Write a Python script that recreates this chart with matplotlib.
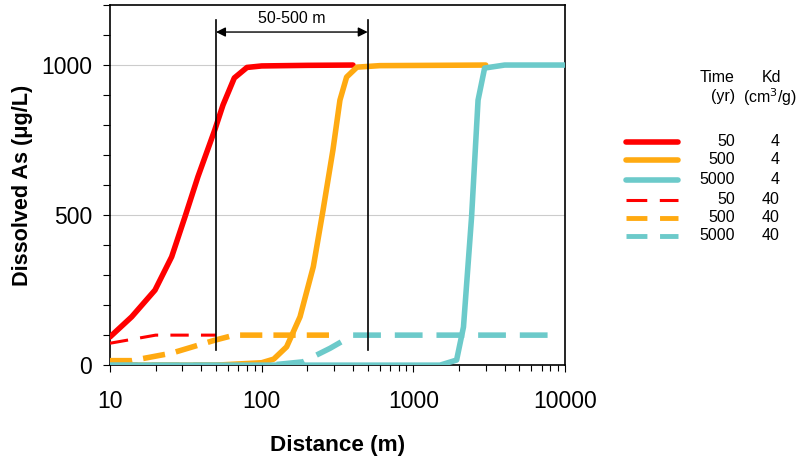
import numpy as np
import matplotlib
matplotlib.use("Agg")
import matplotlib.pyplot as plt
from matplotlib.ticker import MultipleLocator, FixedLocator, LogLocator, NullFormatter

plt.rcParams['font.family'] = ['Liberation Sans', 'DejaVu Sans']

# Kd = 4, solid lines
x_50_k4 = [10, 13.9, 19.8, 25.5, 31.2, 38, 49, 55.6, 66, 80, 100, 200, 400]
y_50_k4 = [94, 161, 250, 361, 494, 628, 783, 867, 957, 992, 997, 999, 1000]

x_500_k4 = [10, 50, 100, 120, 146, 179, 219, 254, 295, 328, 363, 425, 600, 3000]
y_500_k4 = [0, 0, 8, 20, 61, 161, 328, 517, 717, 883, 960, 993, 998, 1000]

x_5000_k4 = [10, 1500, 1928, 2140, 2420, 2670, 2950, 4000, 10000]
y_5000_k4 = [0, 0, 17, 127, 494, 883, 990, 1000, 1000]

# Kd = 40, dashed lines
x_50_k40 = [10, 20, 30, 50]
y_50_k40 = [73, 100, 100, 100]

x_500_k40 = [10, 13.9, 25.5, 49, 66, 100, 300]
y_500_k40 = [15, 15, 40, 83, 100, 100, 100]

x_5000_k40 = [10, 113, 187, 282, 400, 1000, 8500]
y_5000_k40 = [0, 0, 11, 56, 100, 100, 100]

legend_time = ["50", "500", "5000", "50", "500", "5000"]
legend_kd = ["4", "4", "4", "40", "40", "40"]

red = "#FF0000"
orange = "#FFAA11"
cyan = "#6CCACA"

fig = plt.figure(figsize=(8, 4.57), dpi=100)
ax = fig.add_axes([0.1375, 0.201, 0.5688, 0.788])

series = [
    (x_50_k4, y_50_k4, red, "-", 4.0),
    (x_500_k4, y_500_k4, orange, "-", 4.0),
    (x_5000_k4, y_5000_k4, cyan, "-", 4.0),
    (x_50_k40, y_50_k40, red, (0, (6, 4)), 2.2),
    (x_500_k40, y_500_k40, orange, (0, (4, 2)), 4.0),
    (x_5000_k40, y_5000_k40, cyan, (0, (5, 2.5)), 4.0),
]
# dashed first so the solid curves sit on top
for xs, ys, c, ls, lw in series[3:] + series[:3]:
    ax.plot(xs, ys, color=c, linestyle=ls, linewidth=lw,
            solid_capstyle='round', dash_capstyle='butt', zorder=3)

ax.set_xscale('log')
ax.set_xlim(10, 10000)
ax.set_ylim(0, 1200)
ax.yaxis.set_major_locator(FixedLocator([0, 500, 1000]))
ax.yaxis.set_minor_locator(MultipleLocator(100))
ax.xaxis.set_major_locator(FixedLocator([10, 100, 1000, 10000]))
ax.xaxis.set_major_formatter(matplotlib.ticker.FuncFormatter(lambda v, p: f"{int(v)}"))
ax.xaxis.set_minor_locator(LogLocator(base=10, subs=np.arange(2, 10)))
ax.xaxis.set_minor_formatter(NullFormatter())
ax.grid(axis='y', which='major', color='#cccccc', linewidth=0.8, zorder=0)
ax.tick_params(axis='both', which='major', labelsize=16.5, length=5, width=0.8)
ax.tick_params(axis='x', which='major', pad=13)
ax.tick_params(axis='y', which='major', pad=8)
ax.tick_params(axis='both', which='minor', length=4, width=0.8)
ax.tick_params(axis='y', which='minor', length=5)
for s in ax.spines.values():
    s.set_linewidth(1.2)

ax.set_xlabel("Distance (m)", fontsize=16.2, fontweight='bold', labelpad=16)
ax.set_ylabel("Dissolved As (\u03bcg/L)", fontsize=15.6, fontweight='bold', labelpad=6)

# 50-500 m bracket
ax.plot([50, 50], [50, 1150], color='black', linewidth=1.2, zorder=4)
ax.plot([500, 500], [50, 1150], color='black', linewidth=1.2, zorder=4)
ax.annotate("", xy=(50, 1110), xytext=(500, 1110),
            arrowprops=dict(arrowstyle='<|-|>', color='black', lw=1.0,
                            shrinkA=0, shrinkB=0, mutation_scale=14))
ax.text(158, 1155, "50-500 m", ha='center', va='center', fontsize=11.5)

# custom legend table
fs = 11.5
fig.text(735 / 800, 1 - 78 / 457, "Time", ha='right', va='center', fontsize=fs)
fig.text(735 / 800, 1 - 97 / 457, "(yr)", ha='right', va='center', fontsize=fs)
fig.text(781 / 800, 1 - 78 / 457, "Kd", ha='right', va='center', fontsize=fs)
fig.text(797 / 800, 1 - 97 / 457, "(cm$^3$/g)", ha='right', va='center', fontsize=fs)
row_y = [142, 160, 180, 200, 218, 236]
leg_dash = [None, None, None, (0, (6.8, 4.1)), (0, (4.3, 2.6)), (0, (4.3, 2.6))]
leg_lw = [4.0, 4.0, 4.0, 2.2, 3.5, 3.5]
for i, (xs, ys, c, ls, lw) in enumerate(series):
    yy = 1 - row_y[i] / 457
    fig.add_artist(plt.Line2D([626 / 800, 678 / 800], [yy, yy], color=c,
                              linestyle=leg_dash[i] if leg_dash[i] else '-',
                              linewidth=leg_lw[i],
                              solid_capstyle='round', dash_capstyle='butt'))
    fig.text(735 / 800, yy, legend_time[i], ha='right', va='center', fontsize=fs)
    fig.text(780 / 800, yy, legend_kd[i], ha='right', va='center', fontsize=fs)

fig.savefig("out.png", dpi=100)
